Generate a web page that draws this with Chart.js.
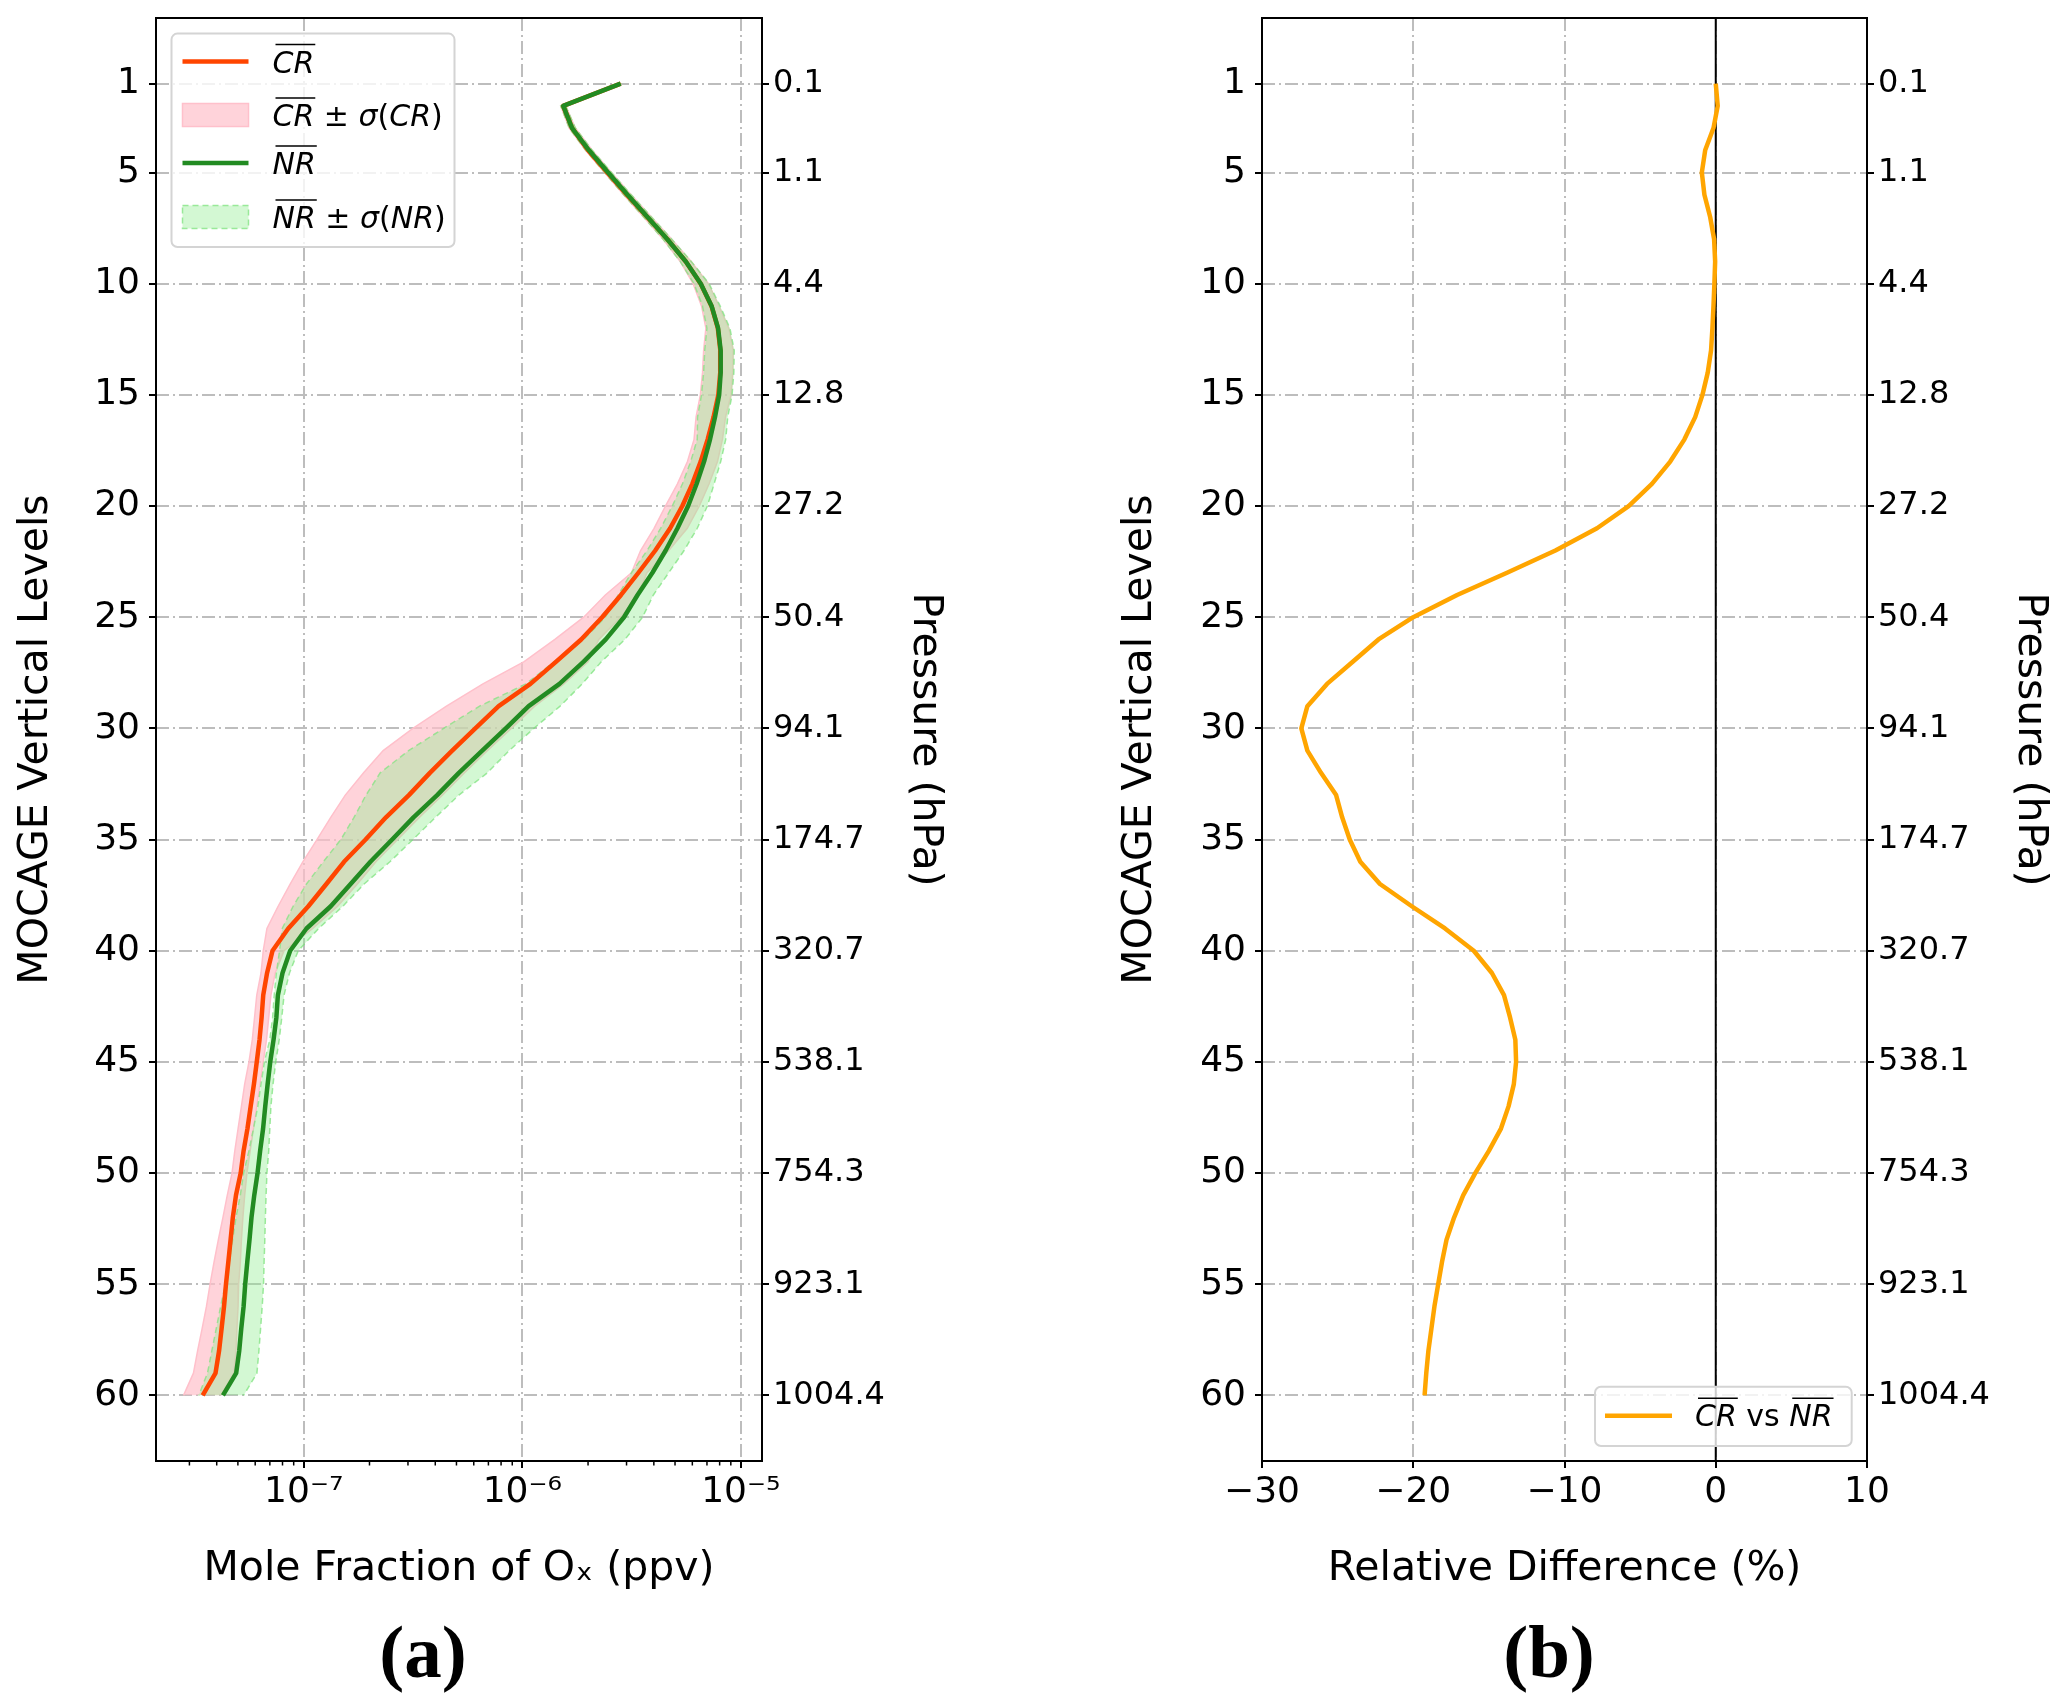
<!DOCTYPE html>
<html>
<head>
<meta charset="utf-8">
<script src="https://cdn.jsdelivr.net/npm/chart.js@4.4.1/dist/chart.umd.min.js"></script>
<style>
html, body { margin: 0; padding: 0; background: #fff; }
body { width: 2067px; height: 1708px; position: relative; overflow: hidden; }
canvas { position: absolute; top: -22px; }
#chartA { left: 0; }
#chartB { left: 1034px; }
.panelTag { position: absolute; top: 1609px; width: 200px; text-align: center;
  font: bold 75px/86px 'Liberation Serif', 'DejaVu Serif', serif; color: #000; }
</style>
</head>
<body>
<canvas id="chartA" width="1034" height="1730"></canvas>
<canvas id="chartB" width="1033" height="1730"></canvas>
<div class="panelTag" style="left:323px">(a)</div>
<div class="panelTag" style="left:1449px">(b)</div>
<script>
//DATA
const levels = [1,2,3,4,5,6,7,8,9,10,11,12,13,14,15,16,17,18,19,20,
  21,22,23,24,25,26,27,28,29,30,31,32,33,34,35,36,37,38,39,40,
  41,42,43,44,45,46,47,48,49,50,51,52,53,54,55,56,57,58,59,60];

const levelTicks = [1,5,10,15,20,25,30,35,40,45,50,55,60];
const pressureLabels = ['0.1','1.1','4.4','12.8','27.2','50.4','94.1','174.7','320.7','538.1','754.3','923.1','1004.4'];
const oxTicks = [1e-7, 1e-6, 1e-5];
const oxTickLabels = ['10\u207B\u2077', '10\u207B\u2076', '10\u207B\u2075'];
const diffTicks = [-30, -20, -10, 0, 10];
const levelRange = [-1.95, 62.95];
const oxRange = [2.11e-8, 1.25e-5];
const diffRange = [-30, 10];
const refLineX = 0;

// mean of CR (ppv)
const crMean = [2.82e-6,1.54e-6,1.69e-6,2.00e-6,2.45e-6,3.01e-6,3.73e-6,4.61e-6,5.60e-6,6.55e-6,
  7.34e-6,7.85e-6,8.06e-6,8.05e-6,7.89e-6,7.50e-6,7.05e-6,6.55e-6,6.00e-6,5.40e-6,
  4.75e-6,4.06e-6,3.40e-6,2.83e-6,2.32e-6,1.86e-6,1.43e-6,1.09e-6,7.80e-7,6.10e-7,
  4.78e-7,3.78e-7,3.03e-7,2.38e-7,1.92e-7,1.53e-7,1.27e-7,1.05e-7,8.50e-8,7.20e-8,
  6.80e-8,6.53e-8,6.42e-8,6.28e-8,6.10e-8,5.92e-8,5.72e-8,5.53e-8,5.31e-8,5.15e-8,
  4.90e-8,4.74e-8,4.63e-8,4.52e-8,4.41e-8,4.32e-8,4.21e-8,4.10e-8,3.95e-8,3.45e-8];
const crLow = [2.79e-6,1.50e-6,1.64e-6,1.95e-6,2.38e-6,2.91e-6,3.59e-6,4.41e-6,5.28e-6,6.05e-6,
  6.61e-6,6.92e-6,6.76e-6,6.68e-6,6.53e-6,6.24e-6,6.11e-6,5.70e-6,5.13e-6,4.52e-6,
  4.01e-6,3.48e-6,3.16e-6,2.40e-6,1.91e-6,1.41e-6,1.02e-6,6.61e-7,4.50e-7,3.16e-7,
  2.31e-7,1.88e-7,1.55e-7,1.33e-7,1.15e-7,9.91e-8,8.67e-8,7.64e-8,6.79e-8,6.53e-8,
  6.38e-8,6.10e-8,5.96e-8,5.82e-8,5.62e-8,5.37e-8,5.19e-8,5.01e-8,4.84e-8,4.70e-8,
  4.47e-8,4.27e-8,4.07e-8,3.89e-8,3.73e-8,3.59e-8,3.43e-8,3.27e-8,3.13e-8,2.82e-8];
const crHigh = [2.85e-6,1.58e-6,1.75e-6,2.09e-6,2.56e-6,3.15e-6,3.90e-6,4.83e-6,5.93e-6,7.11e-6,
  7.94e-6,8.81e-6,9.23e-6,9.18e-6,9.02e-6,8.51e-6,8.24e-6,7.82e-6,7.16e-6,6.46e-6,
  5.69e-6,4.68e-6,3.72e-6,3.39e-6,2.82e-6,2.24e-6,2.00e-6,1.55e-6,1.14e-6,8.91e-7,
  6.92e-7,5.43e-7,4.32e-7,3.39e-7,2.69e-7,2.14e-7,1.76e-7,1.43e-7,1.10e-7,8.13e-8,
  7.41e-8,7.08e-8,6.92e-8,6.76e-8,6.53e-8,6.31e-8,6.10e-8,5.89e-8,5.69e-8,5.50e-8,
  5.37e-8,5.27e-8,5.19e-8,5.13e-8,5.04e-8,5.01e-8,4.95e-8,4.90e-8,4.79e-8,4.17e-8];

// mean of NR (ppv)
const nrMean = [2.82e-6,1.54e-6,1.69e-6,2.02e-6,2.47e-6,3.03e-6,3.74e-6,4.61e-6,5.60e-6,6.56e-6,
  7.35e-6,7.87e-6,8.09e-6,8.09e-6,7.96e-6,7.62e-6,7.23e-6,6.79e-6,6.28e-6,5.74e-6,
  5.13e-6,4.53e-6,3.94e-6,3.37e-6,2.92e-6,2.41e-6,1.91e-6,1.48e-6,1.07e-6,8.41e-7,
  6.56e-7,5.13e-7,4.08e-7,3.18e-7,2.54e-7,2.02e-7,1.64e-7,1.33e-7,1.03e-7,8.67e-8,
  8.00e-8,7.62e-8,7.50e-8,7.28e-8,7.03e-8,6.84e-8,6.67e-8,6.52e-8,6.32e-8,6.15e-8,
  5.94e-8,5.77e-8,5.65e-8,5.52e-8,5.40e-8,5.31e-8,5.18e-8,5.07e-8,4.91e-8,4.27e-8];
const nrLow = [2.79e-6,1.50e-6,1.64e-6,1.95e-6,2.38e-6,2.91e-6,3.59e-6,4.41e-6,5.28e-6,6.11e-6,
  6.68e-6,7.00e-6,6.84e-6,6.76e-6,6.61e-6,6.34e-6,6.32e-6,5.90e-6,5.41e-6,4.86e-6,
  4.30e-6,3.73e-6,3.16e-6,2.75e-6,2.40e-6,1.91e-6,1.40e-6,1.04e-6,6.38e-7,4.37e-7,
  3.02e-7,2.24e-7,1.93e-7,1.70e-7,1.48e-7,1.23e-7,1.03e-7,8.95e-8,7.98e-8,7.76e-8,
  7.50e-8,7.33e-8,7.21e-8,7.00e-8,6.61e-8,6.38e-8,6.17e-8,5.89e-8,5.62e-8,5.31e-8,
  5.13e-8,4.90e-8,4.73e-8,4.57e-8,4.38e-8,4.17e-8,3.98e-8,3.80e-8,3.63e-8,3.31e-8];
const nrHigh = [2.85e-6,1.58e-6,1.75e-6,2.09e-6,2.56e-6,3.15e-6,3.90e-6,4.83e-6,5.93e-6,7.16e-6,
  8.04e-6,8.91e-6,9.33e-6,9.29e-6,9.12e-6,8.71e-6,8.53e-6,8.09e-6,7.55e-6,7.03e-6,
  6.32e-6,5.50e-6,4.68e-6,3.98e-6,3.55e-6,2.95e-6,2.30e-6,1.88e-6,1.49e-6,1.13e-6,
  8.71e-7,6.92e-7,5.13e-7,4.01e-7,3.16e-7,2.48e-7,1.89e-7,1.51e-7,1.17e-7,9.44e-8,
  8.61e-8,8.13e-8,7.94e-8,7.73e-8,7.45e-8,7.24e-8,7.08e-8,7.00e-8,6.92e-8,6.79e-8,
  6.73e-8,6.68e-8,6.64e-8,6.59e-8,6.55e-8,6.46e-8,6.35e-8,6.24e-8,6.11e-8,5.31e-8];

// relative difference CR vs NR (%)
const relDiff = [0.0,0.13,-0.15,-0.70,-0.92,-0.75,-0.37,-0.11,-0.04,-0.09,
  -0.15,-0.22,-0.31,-0.53,-0.88,-1.36,-2.07,-3.01,-4.22,-5.76,
  -7.85,-10.6,-13.8,-17.1,-20.0,-22.3,-24.0,-25.7,-27.0,-27.4,
  -27.0,-26.1,-25.1,-24.7,-24.2,-23.5,-22.2,-20.1,-17.9,-16.0,
  -14.8,-14.0,-13.6,-13.25,-13.2,-13.35,-13.7,-14.2,-15.0,-15.9,
  -16.7,-17.3,-17.8,-18.1,-18.35,-18.6,-18.8,-19.0,-19.14,-19.25];

//STYLE
Chart.defaults.font.family = "'DejaVu Sans', sans-serif";
Chart.defaults.color = '#000';

const gridColor = '#bdbdbd';
const gridDash = [13, 4, 2, 4];
const FONT = "'DejaVu Sans', sans-serif";

function profile(values){
    return levels.map((lv, i) => ({x: values[i], y: lv}));
}

function levelAxis(position, labels, tickSize, titlePad, width, gridOn, title){
    return {
        type: 'linear',
        position: position,
        reverse: true,
        bounds: 'data',
        min: levelRange[0],
        max: levelRange[1],
        afterBuildTicks: s => { s.ticks = levelTicks.map(v => ({value: v})); },
        afterFit: s => { s.width = width; },
        ticks: {
            autoSkip: false,
            padding: position === 'left' ? 9 : 4,
            font: {size: tickSize},
            color: '#000',
            callback: (v, i) => labels ? labels[i] : String(levelTicks[i])
        },
        grid: {
            drawOnChartArea: gridOn,
            color: gridColor,
            lineWidth: 2,
            tickLength: 7,
            tickColor: '#000',
            tickWidth: 2
        },
        border: {display: false, dash: gridDash},
        title: {
            display: true,
            text: title,
            font: {size: 41},
            color: '#000',
            padding: {top: titlePad, bottom: 0}
        }
    };
}

//PLUGINS
const framePlugin = {
    id: 'frame',
    afterDatasetsDraw(chart){
        const {ctx, chartArea: a} = chart;
        ctx.save();
        ctx.strokeStyle = '#000';
        ctx.lineWidth = 2;
        ctx.strokeRect(a.left, a.top, a.right - a.left, a.bottom - a.top);
        ctx.restore();
    }
};

const minorTickPlugin = {
    id: 'minorTicks',
    afterDatasetsDraw(chart){
        const {ctx, chartArea: a} = chart;
        const xs = chart.scales.x;
        ctx.save();
        ctx.strokeStyle = '#000';
        ctx.lineWidth = 1.5;
        for (let e = -9; e <= -4; e++){
            for (let m = 2; m <= 9; m++){
                const v = m * Math.pow(10, e);
                if (v <= xs.min || v >= xs.max) continue;
                const px = xs.getPixelForValue(v);
                ctx.beginPath();
                ctx.moveTo(px, a.bottom);
                ctx.lineTo(px, a.bottom + 4.5);
                ctx.stroke();
            }
        }
        ctx.restore();
    }
};

const zeroLinePlugin = {
    id: 'zeroLine',
    beforeDatasetsDraw(chart){
        const {ctx, chartArea: a} = chart;
        const px = chart.scales.x.getPixelForValue(refLineX);
        ctx.save();
        ctx.strokeStyle = '#000';
        ctx.lineWidth = 2;
        ctx.beginPath();
        ctx.moveTo(px, a.top);
        ctx.lineTo(px, a.bottom);
        ctx.stroke();
        ctx.restore();
    }
};

// parts: [text, italic, overline]
function DrawMath(ctx, parts, x, y){
    let cx = x;
    parts.forEach(([txt, italic, bar]) => {
        ctx.font = (italic ? 'italic ' : '') + '30px ' + FONT;
        const w = ctx.measureText(txt).width;
        ctx.fillStyle = '#000';
        ctx.fillText(txt, cx, y);
        if (bar){
            ctx.beginPath();
            ctx.lineWidth = 1.6;
            ctx.strokeStyle = '#000';
            ctx.moveTo(cx + 3, y - 28);
            ctx.lineTo(cx + w + 1, y - 28);
            ctx.stroke();
        }
        cx += w;
    });
}

function LegendBox(ctx, x, y, w, h){
    ctx.beginPath();
    ctx.roundRect(x, y, w, h, 6);
    ctx.fillStyle = 'rgba(255,255,255,0.8)';
    ctx.fill();
    ctx.strokeStyle = '#d4d4d4';
    ctx.lineWidth = 2;
    ctx.stroke();
}

const legendA = {
    id: 'legendA',
    afterDraw(chart){
        const {ctx, chartArea: a} = chart;
        const x0 = a.left + 15.5, y0 = a.top + 15.6;
        ctx.save();
        LegendBox(ctx, x0, y0, 283, 213.4);
        ctx.textBaseline = 'alphabetic';
        const rows = [27.9, 81.4, 129.4, 183.4];
        // CR line
        ctx.strokeStyle = 'orangered'; ctx.lineWidth = 4.5;
        ctx.beginPath(); ctx.moveTo(x0 + 11, y0 + rows[0]); ctx.lineTo(x0 + 77, y0 + rows[0]); ctx.stroke();
        // CR band
        ctx.fillStyle = 'rgba(255,192,203,0.7)';
        ctx.fillRect(x0 + 11, y0 + rows[1] - 11.5, 66, 23);
        ctx.strokeStyle = 'pink'; ctx.lineWidth = 1.5;
        ctx.strokeRect(x0 + 11, y0 + rows[1] - 11.5, 66, 23);
        // NR line
        ctx.strokeStyle = 'forestgreen'; ctx.lineWidth = 4.5;
        ctx.beginPath(); ctx.moveTo(x0 + 11, y0 + rows[2]); ctx.lineTo(x0 + 77, y0 + rows[2]); ctx.stroke();
        // NR band
        ctx.fillStyle = 'rgba(144,238,144,0.4)';
        ctx.fillRect(x0 + 11, y0 + rows[3] - 11.5, 66, 23);
        ctx.setLineDash([6, 4]);
        ctx.strokeStyle = 'rgba(120,225,120,0.7)'; ctx.lineWidth = 1.5;
        ctx.strokeRect(x0 + 11, y0 + rows[3] - 11.5, 66, 23);
        ctx.setLineDash([]);

        const tx = x0 + 101;
        DrawMath(ctx, [['CR', true, true]], tx, y0 + rows[0] + 11);
        DrawMath(ctx, [['CR', true, true], [' \u00B1 ', false, false], ['\u03C3', true, false], ['(', false, false], ['CR', true, false], [')', false, false]], tx, y0 + rows[1] + 11);
        DrawMath(ctx, [['NR', true, true]], tx, y0 + rows[2] + 11);
        DrawMath(ctx, [['NR', true, true], [' \u00B1 ', false, false], ['\u03C3', true, false], ['(', false, false], ['NR', true, false], [')', false, false]], tx, y0 + rows[3] + 11);
        ctx.restore();
    }
};

const legendB = {
    id: 'legendB',
    afterDraw(chart){
        const {ctx, chartArea: a} = chart;
        const w = 256.7, h = 59.3;
        const x0 = a.right - 15.3 - w, y0 = a.bottom - 15 - h;
        ctx.save();
        LegendBox(ctx, x0, y0, w, h);
        ctx.strokeStyle = 'orange'; ctx.lineWidth = 4.5;
        ctx.beginPath(); ctx.moveTo(x0 + 10, y0 + 29); ctx.lineTo(x0 + 77, y0 + 29); ctx.stroke();
        ctx.textBaseline = 'alphabetic';
        DrawMath(ctx, [['CR', true, true], [' vs ', false, false], ['NR', true, true]], x0 + 100, y0 + 29 + 10.5);
        ctx.restore();
    }
};

//CHART A
// higher order is drawn first: bands, then CR line, then NR line
const chartA = new Chart(document.querySelector('#chartA'), {
    type: 'line',
    data: {
        datasets: [
            {data: profile(crLow), borderColor: 'pink', borderWidth: 1.5, pointRadius: 0, fill: false, order: 6},
            {data: profile(crHigh), borderColor: 'pink', borderWidth: 1.5, pointRadius: 0,
                fill: '-1', backgroundColor: 'rgba(255,192,203,0.7)', order: 5},
            {data: profile(crMean), borderColor: 'orangered', borderWidth: 4.5, pointRadius: 0, fill: false,
                borderJoinStyle: 'round', order: 2},
            {data: profile(nrLow), borderColor: 'rgba(120,225,120,0.7)', borderDash: [6, 4], borderWidth: 1.5,
                pointRadius: 0, fill: false, order: 4},
            {data: profile(nrHigh), borderColor: 'rgba(120,225,120,0.7)', borderDash: [6, 4], borderWidth: 1.5,
                pointRadius: 0, fill: '-1', backgroundColor: 'rgba(144,238,144,0.4)', order: 3},
            {data: profile(nrMean), borderColor: 'forestgreen', borderWidth: 4.5, pointRadius: 0, fill: false,
                borderJoinStyle: 'round', order: 1}
        ]
    },
    options: {
        indexAxis: 'y',
        responsive: false,
        animation: false,
        devicePixelRatio: 1,
        layout: {padding: {top: 40, left: 0, right: 0, bottom: 0}},
        plugins: {legend: {display: false}, tooltip: {enabled: false}},
        scales: {
            x: {
                type: 'logarithmic',
                position: 'bottom',
                min: oxRange[0],
                max: oxRange[1],
                afterBuildTicks: s => { s.ticks = oxTicks.map(v => ({value: v})); },
                afterFit: s => { s.height = 247; },
                ticks: {
                    autoSkip: false, maxRotation: 0, padding: 3,
                    font: {size: 36}, color: '#000',
                    callback: (v, i) => oxTickLabels[i]
                },
                grid: {color: gridColor, lineWidth: 2, tickLength: 7, tickColor: '#000', tickWidth: 2},
                border: {display: false, dash: gridDash},
                title: {display: true, text: 'Mole Fraction of O\u2093 (ppv)', font: {size: 41}, color: '#000',
                    padding: {top: 0, bottom: 114}}
            },
            y: levelAxis('left', null, 36, 11.4, 156, true, 'MOCAGE Vertical Levels'),
            y2: levelAxis('right', pressureLabels, 32, 84.4, 272, false, 'Pressure (hPa)')
        }
    },
    plugins: [minorTickPlugin, framePlugin, legendA]
});

//CHART B
const chartB = new Chart(document.querySelector('#chartB'), {
    type: 'line',
    data: {
        datasets: [
            {data: profile(relDiff), borderColor: 'orange', borderWidth: 4.5, pointRadius: 0, fill: false,
                borderJoinStyle: 'round'}
        ]
    },
    options: {
        indexAxis: 'y',
        responsive: false,
        animation: false,
        devicePixelRatio: 1,
        layout: {padding: {top: 40, left: 0, right: 0, bottom: 0}},
        plugins: {legend: {display: false}, tooltip: {enabled: false}},
        scales: {
            x: {
                type: 'linear',
                position: 'bottom',
                bounds: 'data',
                min: diffRange[0],
                max: diffRange[1],
                afterBuildTicks: s => { s.ticks = diffTicks.map(v => ({value: v})); },
                afterFit: s => { s.height = 247; },
                ticks: {
                    autoSkip: false, maxRotation: 0, padding: 3,
                    font: {size: 36}, color: '#000',
                    callback: (v, i) => diffTicks[i] < 0 ? '\u2212' + Math.abs(diffTicks[i]) : String(diffTicks[i])
                },
                grid: {color: gridColor, lineWidth: 2, tickLength: 7, tickColor: '#000', tickWidth: 2},
                border: {display: false, dash: gridDash},
                title: {display: true, text: 'Relative Difference (%)', font: {size: 41}, color: '#000',
                    padding: {top: 0, bottom: 114}}
            },
            y: levelAxis('left', null, 36, 81.4, 228, true, 'MOCAGE Vertical Levels'),
            y2: levelAxis('right', pressureLabels, 32, 12.4, 200, false, 'Pressure (hPa)')
        }
    },
    plugins: [zeroLinePlugin, framePlugin, legendB]
});
</script>
</body>
</html>
